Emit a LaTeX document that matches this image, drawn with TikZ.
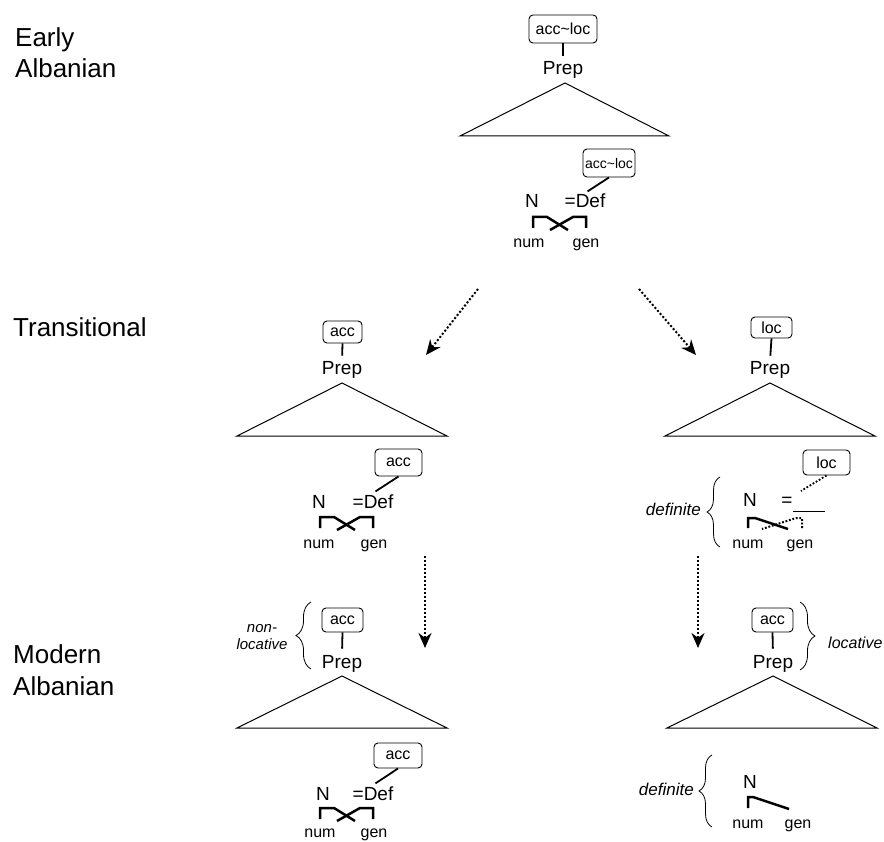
\documentclass[tikz,border=0pt]{standalone}
\usepackage{fontspec}
\setmainfont{Liberation Sans}
\usetikzlibrary{arrows.meta,decorations.pathreplacing,calc}
\begin{document}
\begin{tikzpicture}[x=1pt,y=-1pt,
  feat/.style={draw, rounded corners=4pt, line width=0.9pt, font=\fontsize{16}{16}\selectfont, inner sep=0pt, minimum width=41pt, minimum height=23pt},
  lab/.style={font=\fontsize{26}{26}\selectfont, anchor=base west, inner sep=0pt},
  cat/.style={font=\fontsize{19}{19}\selectfont, inner sep=1pt, anchor=base},
  sub/.style={font=\fontsize{16}{16}\selectfont, inner sep=1pt, anchor=base},
  note/.style={font=\itshape\fontsize{17}{17}\selectfont, inner sep=0pt},
  stem/.style={line width=1.8pt, shorten >=5pt},
  link/.style={line width=1.8pt, shorten >=3pt},
  dotlink/.style={line width=1.8pt, dash pattern=on 1.8pt off 1.8pt},
  tri/.style={line width=1pt, line join=miter},
  bar/.style={line width=2.5pt, line join=miter},
  dotbar/.style={line width=2pt, dash pattern=on 1.8pt off 1.8pt},
  shiftarrow/.style={line width=2pt, dash pattern=on 2pt off 2pt, -{Stealth[length=15pt,width=13pt]}},
  brc/.style={decorate, decoration={brace, amplitude=#1}, line width=0.8pt},
  pics/xcross/.style={code={
    \draw[bar] (0,11) -- (0,0) -- (14,0) -- (35,13);
    \draw[bar] (53,11) -- (53,0) -- (40,0) -- (17,13);
  }}
]
\useasboundingbox (0,0) rectangle (884,842);

% period labels
\node[lab] (early) at (15,47) {Early};
\node[lab] (earlyb) at (15,78) {Albanian};
\node[lab] (trans) at (13,337) {Transitional};
\node[lab] (modern) at (13,663) {Modern};
\node[lab] (modernb) at (13,695) {Albanian};

% ===== Early Albanian =====
\node[feat, minimum width=68pt, minimum height=28pt] (boxA) at (563,29) {acc\textasciitilde loc};
\node[cat] (prepA) at (563,75) {Prep};
\draw[stem] (boxA.south) -- (prepA.north);
\draw[tri] (565,83) -- (460,136) -- (669,136) -- cycle;
\node[feat, minimum width=52pt, minimum height=28pt, font=\fontsize{14}{14}\selectfont] (boxA2) at (609,163) {acc\textasciitilde loc};
\node[cat] (nA) at (532,208) {N};
\node[cat] (defA) at (585,208) {=Def};
\draw[link] (boxA2.south) -- (defA.north);
\pic at (533,217) {xcross};
\node[sub] (numA) at (529,248) {num};
\node[sub] (genA) at (586,248) {gen};

% arrows to transitional
\coordinate (fromAL) at (478,289);
\coordinate (toB) at (426,355);
\coordinate (fromAR) at (639,289);
\coordinate (toC) at (696,355);
\draw[shiftarrow] (fromAL) -- (toB);
\draw[shiftarrow] (fromAR) -- (toC);

% ===== Transitional, left =====
\node[feat, minimum width=39pt, minimum height=22pt] (boxB) at (342.5,332) {acc};
\node[cat] (prepB) at (342,375) {Prep};
\draw[stem] (boxB.south) -- (prepB.north);
\draw[tri] (342,383) -- (237,436) -- (447,436) -- cycle;
\node[feat, minimum width=47pt, minimum height=27pt] (boxB2) at (398.5,462.5) {acc};
\node[cat] (nB) at (319,508) {N};
\node[cat] (defB) at (373,508) {=Def};
\draw[link] (boxB2.south) -- (defB.north);
\pic at (320,517) {xcross};
\node[sub] (numB) at (319,548) {num};
\node[sub] (genB) at (374,548) {gen};

% ===== Transitional, right =====
\node[feat, minimum width=41pt, minimum height=21pt] (boxC) at (771.5,327.5) {loc};
\node[cat] (prepC) at (770,375) {Prep};
\draw[stem] (boxC.south) -- (prepC.north);
\draw[tri] (770,383) -- (665,436) -- (875,436) -- cycle;
\node[feat, minimum width=47pt, minimum height=25pt] (boxC2) at (826.5,462.5) {loc};
\node[cat] (nC) at (750,506) {N};
\node[cat] (eqC) at (787,506) {=};
\coordinate (slotC) at (801,491);
\draw[line width=1pt] (793,511) -- (825,511);
\draw[dotlink] (boxC2.south) -- (slotC);
\draw[bar] (748,528) -- (748,518) -- (755,518) -- (788,529);
\draw[dotbar] (802,528) -- (802,518) -- (796,518) -- (762,529);
\node[sub] (numC) at (748,548) {num};
\node[sub] (genC) at (800,548) {gen};
\draw[brc=13pt] (720,547) -- (720,477);
\node[note, anchor=base east] (defnC) at (701,515) {definite};

% arrows to modern
\coordinate (fromB) at (425,556);
\coordinate (toD) at (425,648);
\coordinate (fromC) at (698,556);
\coordinate (toE) at (698,648);
\draw[shiftarrow] (fromB) -- (toD);
\draw[shiftarrow] (fromC) -- (toE);

% ===== Modern, left =====
\node[feat, minimum width=41pt, minimum height=24pt] (boxD) at (342.5,620) {acc};
\node[cat] (prepD) at (342,668) {Prep};
\draw[stem] (boxD.south) -- (prepD.north);
\draw[tri] (342,676) -- (237,728) -- (447,728) -- cycle;
\node[feat, minimum width=48pt, minimum height=25pt] (boxD2) at (398,755.5) {acc};
\node[cat] (nD) at (323,800) {N};
\node[cat] (defD) at (373,800) {=Def};
\draw[link] (boxD2.south) -- (defD.north);
\pic at (320,808) {xcross};
\node[sub] (numD) at (320,837.5) {num};
\node[sub] (genD) at (374,837.5) {gen};
\draw[brc=15pt] (311,669) -- (311,602);
\node[note, align=center, font=\itshape\fontsize{15}{17}\selectfont] (nonloc) at (262,637) {non-\\locative};

% ===== Modern, right =====
\node[feat, minimum width=41pt, minimum height=24pt] (boxE) at (772.5,620) {acc};
\node[cat] (prepE) at (773,668) {Prep};
\draw[stem] (boxE.south) -- (prepE.north);
\draw[tri] (773,676) -- (667,728) -- (877,728) -- cycle;
\draw[brc=15pt] (800,602) -- (800,670);
\node[note, anchor=base west, font=\itshape\fontsize{16}{16}\selectfont] (locE) at (828,648) {locative};
\node[cat] (nE) at (750,788) {N};
\draw[bar] (748,808) -- (748,797) -- (753,797) -- (789,809);
\node[sub] (numE) at (748,828) {num};
\node[sub] (genE) at (798,828) {gen};
\draw[brc=13pt] (712,827) -- (712,755);
\node[note, anchor=base east] (defnE) at (694,795) {definite};
\end{tikzpicture}
\end{document}
